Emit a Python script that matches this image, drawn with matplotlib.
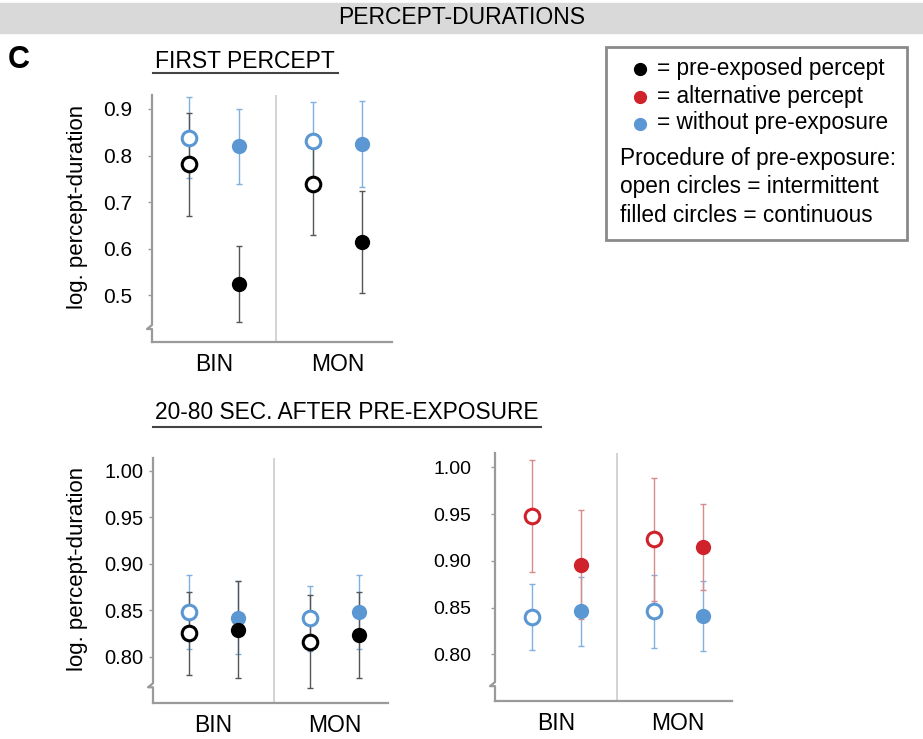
import matplotlib
matplotlib.use("Agg")
import matplotlib.pyplot as plt
from matplotlib.lines import Line2D
from matplotlib.patches import Rectangle
from matplotlib.transforms import IdentityTransform

plt.rcParams['font.family'] = ['Liberation Sans', 'DejaVu Sans']

# order of the points: BIN intermittent, BIN continuous, MON intermittent, MON continuous
groups = ["BIN", "MON"]
x_pos = [0.75, 1.75, 3.25, 4.25]
filled = [False, True, False, True]

first_blue = [0.838, 0.820, 0.831, 0.825]
first_blue_err = [0.087, 0.081, 0.084, 0.093]
first_black = [0.781, 0.524, 0.738, 0.615]
first_black_err = [0.110, 0.082, 0.109, 0.110]

late_blue_l = [0.848, 0.842, 0.841, 0.848]
late_blue_l_err = [0.040, 0.039, 0.035, 0.040]
late_black = [0.825, 0.829, 0.816, 0.823]
late_black_err = [0.045, 0.052, 0.050, 0.046]

late_red = [0.948, 0.896, 0.923, 0.915]
late_red_err = [0.060, 0.058, 0.066, 0.046]
late_blue_r = [0.840, 0.846, 0.846, 0.841]
late_blue_r_err = [0.035, 0.037, 0.039, 0.037]

BLUE = "#5b97d3"
RED = "#d0222b"
BLACK = "#000000"
ERR = {BLUE: "#7fb0e0", RED: "#d98a8a", BLACK: "#555555"}
SPINE = "#9a9a9a"


def draw_series(ax, vals, errs, color):
    for x, v, e, f in zip(x_pos, vals, errs, filled):
        ax.errorbar(x, v, yerr=e, fmt="none", ecolor=ERR[color], elinewidth=1.0,
                    capsize=2, capthick=1.0, zorder=2)
        if f:
            ax.plot(x, v, "o", ms=11, mfc=color, mec=color, mew=0, zorder=3)
        else:
            ax.plot(x, v, "o", ms=10.5, mfc="white", mec=color, mew=2.2, zorder=3)


def style_axes(ax, ylim, ticks, fmt, brk, pad, tsize):
    ax.set_xlim(0, 4.85)
    ax.set_ylim(*ylim)
    ax.set_yticks(ticks)
    ax.set_yticklabels([fmt.format(t) for t in ticks], fontsize=tsize)
    ax.tick_params(axis="y", length=3, width=1, color=SPINE, pad=pad)
    ax.set_xticks([1.25, 3.75])
    ax.set_xticklabels(groups, fontsize=16.5)
    ax.tick_params(axis="x", length=0, pad=8)
    for s in ["top", "right", "left"]:
        ax.spines[s].set_visible(False)
    ax.spines["bottom"].set_color(SPINE)
    ax.spines["bottom"].set_linewidth(1.6)
    ax.axvline(2.5, color="#cccccc", lw=1.2, zorder=1)
    # left spine with a break mark
    fig.canvas.draw()
    x0, ytop = ax.transAxes.transform((0, 1))
    _, ybot = ax.transAxes.transform((0, 0))
    _, yb = ax.transData.transform((0, brk))
    xs = [x0, x0, x0 - 5, x0, x0]
    ys = [ytop, yb + 3, yb - 1, yb - 1, ybot]
    fig.add_artist(Line2D(xs, ys, transform=IdentityTransform(), color=SPINE, lw=1.6))


fig = plt.figure(figsize=(9.23, 7.39), dpi=100)

# header band
fig.add_artist(Rectangle((0, 1 - 33 / 739), 1, 30 / 739, transform=fig.transFigure,
                         color="#d9d9d9", zorder=0))
fig.text(0.5, 1 - 18 / 739, "PERCEPT-DURATIONS", ha="center", va="center", fontsize=16.5)
fig.text(8 / 923, 1 - 60 / 739, "C", ha="left", va="center", fontsize=22, fontweight="bold")

# section titles
fig.text(155 / 923, 1 - 61 / 739, "FIRST PERCEPT", ha="left", va="center", fontsize=16.5)
fig.add_artist(Line2D([153 / 923, 338 / 923], [1 - 73 / 739] * 2, transform=fig.transFigure,
                      color="#444444", lw=1.5))
fig.text(155 / 923, 1 - 413 / 739, "20-80 SEC. AFTER PRE-EXPOSURE", ha="left", va="center",
         fontsize=16.4)
fig.add_artist(Line2D([153 / 923, 541 / 923], [1 - 427 / 739] * 2, transform=fig.transFigure,
                      color="#444444", lw=1.5))

# top panel: first percept
ax1 = fig.add_axes([152 / 923, 1 - 342 / 739, 240 / 923, 247 / 739])
draw_series(ax1, first_blue, first_blue_err, BLUE)
draw_series(ax1, first_black, first_black_err, BLACK)
style_axes(ax1, (0.40, 0.93), [0.5, 0.6, 0.7, 0.8, 0.9], "{:.1f}", 0.43, 11, 15)
fig.text(77 / 923, 1 - 207 / 739, "log. percept-duration", rotation=90, ha="center",
         va="center", fontsize=16)

# bottom left
ax2 = fig.add_axes([153 / 923, 1 - 703 / 739, 235 / 923, 245 / 739])
draw_series(ax2, late_blue_l, late_blue_l_err, BLUE)
draw_series(ax2, late_black, late_black_err, BLACK)
style_axes(ax2, (0.75, 1.0137), [0.80, 0.85, 0.90, 0.95, 1.00], "{:.2f}", 0.768, 4, 14.5)
fig.text(77 / 923, 1 - 569 / 739, "log. percept-duration", rotation=90, ha="center",
         va="center", fontsize=16)

# bottom right
ax3 = fig.add_axes([495 / 923, 1 - 701 / 739, 237 / 923, 248 / 739])
draw_series(ax3, late_blue_r, late_blue_r_err, BLUE)
draw_series(ax3, late_red, late_red_err, RED)
style_axes(ax3, (0.75, 1.0154), [0.80, 0.85, 0.90, 0.95, 1.00], "{:.2f}", 0.767, 14, 14)

# legend box
fig.add_artist(Rectangle((606 / 923, 1 - 240 / 739), 301 / 923, 193 / 739,
                         transform=fig.transFigure, fill=False, ec="#8a8a8a", lw=2))
leg_items = [(BLACK, "= pre-exposed percept", 68), (RED, "= alternative percept", 96),
             (BLUE, "= without pre-exposure", 123)]
for c, t, y in leg_items:
    fig.add_artist(Line2D([640 / 923], [1 - (y + 1) / 739], transform=fig.transFigure,
                          marker="o", ms=8.5, mfc=c, mec=c, ls="none"))
    fig.text(657 / 923, 1 - y / 739, t, ha="left", va="center", fontsize=16.3)
for t, y in [("Procedure of pre-exposure:", 159), ("open circles = intermittent", 187),
             ("filled circles = continuous", 215)]:
    fig.text(620 / 923, 1 - y / 739, t, ha="left", va="center", fontsize=16.3)

fig.savefig("out.png", dpi=100)
